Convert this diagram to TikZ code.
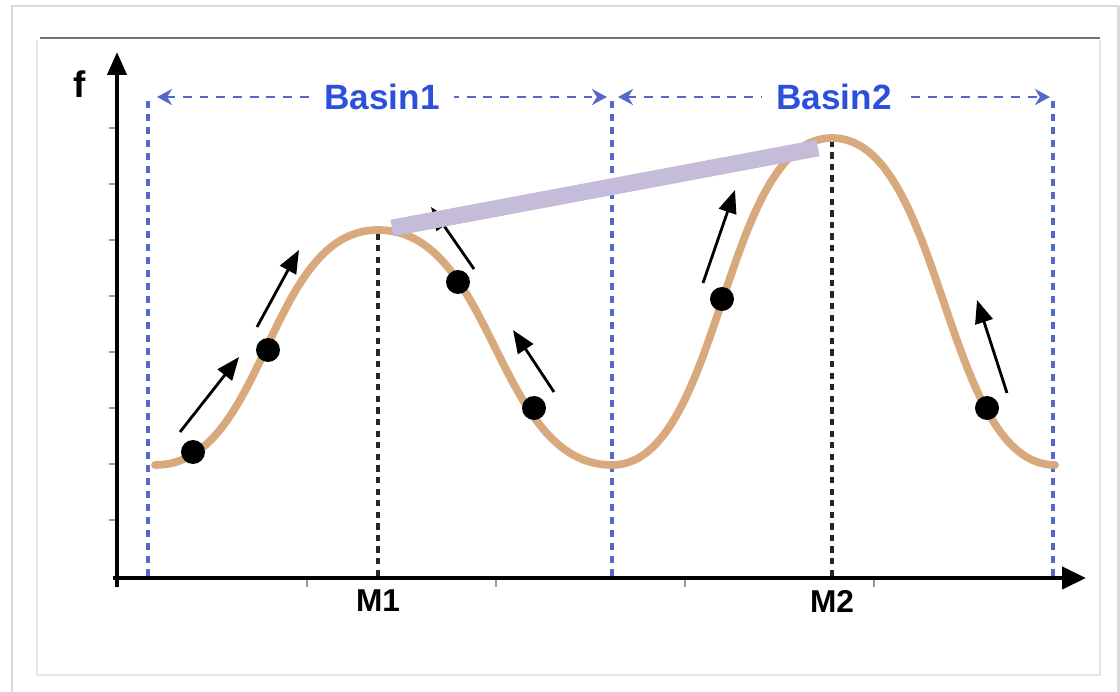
\documentclass[tikz,border=0pt]{standalone}
\usepackage{fontspec}
\setmainfont{Liberation Sans}
\usetikzlibrary{arrows.meta}
\definecolor{curvetan}{HTML}{D8A97C}
\definecolor{barlilac}{HTML}{C4BCD8}
\definecolor{basinblue}{HTML}{2C50DC}
\definecolor{sepblue}{HTML}{5468CC}
\definecolor{framegray}{HTML}{DADADA}

\begin{document}
\begin{tikzpicture}[x=0.02cm, y=-0.02cm, line join=round, >=Stealth,
		sep/.style={sepblue, line width=2pt, dash pattern=on 4pt off 3.4pt},
		peak/.style={black!85, line width=2pt, dash pattern=on 3.6pt off 3pt},
		span/.style={sepblue, line width=1.7pt, dash pattern=on 5pt off 4.5pt,
			{Stealth[length=3mm,width=3.2mm]}-{Stealth[length=3mm,width=3.2mm]}},
		move/.style={black, line width=1.6pt, -{Triangle[length=4.6mm,width=3.6mm]}},
		ball/.style={circle, fill=black, inner sep=0pt, minimum size=0.48cm},
		lbl/.style={font=\bfseries\fontsize{18}{20}\selectfont},
		basin/.style={font=\bfseries\fontsize{20}{22}\selectfont, text=basinblue, fill=white, inner xsep=8pt}]
	
	% Page frame and panel
	\useasboundingbox (0,0) rectangle (1120,692);
	\draw[framegray, line width=1.7pt] (12,700) -- (12,6) -- (1118,6) -- (1118,700);
	\draw[framegray!70, line width=1.2pt] (37,40) -- (37,675) -- (1100,675) -- (1100,40);
	\draw[black!55, line width=1.7pt] (40,38) -- (1100,38);
	
	% Define axis points
	\coordinate (O) at (117,578);
	\coordinate (Xs) at (113,578);
	\coordinate (Xe) at (1086,578);
	\coordinate (Ys) at (117,587);
	\coordinate (Ye) at (117,52);
	
	% Tick marks
	\foreach \ty in {128,184,...,522} {
		\draw[black!40, line width=0.6pt] (109,\ty) -- (117,\ty);
	}
	\foreach \tx in {307,496,685,874} {
		\draw[black!40, line width=0.6pt] (\tx,578) -- (\tx,587);
	}
	
	% Basin borders and minima
	\draw[sep] (148,576) -- (148,97);
	\draw[sep] (612,576) -- (612,97);
	\draw[sep] (1053,576) -- (1053,97);
	\draw[peak] (378,576) -- (378,232);
	\draw[peak] (832,576) -- (832,140);
	
	% Basin spans
	\draw[span] (157,97) -- (607,97) node[midway, basin] (b1) {Basin1};
	\draw[span] (618,97) -- (1050,97) node[midway, basin] (b2) {Basin2};
	
	% Axes
	\draw[line width=2.4pt, -{Triangle[length=4.8mm,width=4.4mm]}] (Xs) -- (Xe);
	\draw[line width=2.4pt, -{Triangle[length=4.6mm,width=3.8mm]}] (Ys) -- (Ye);
	
	% Landscape curve
	\draw[curvetan, line width=4.4pt, line cap=round] (155,465)
		.. controls (266.5,465) and (266.5,230) .. (378,230)
		.. controls (495,230) and (495,465) .. (612,465)
		.. controls (722,465) and (722,138) .. (832,138)
		.. controls (943.5,138) and (943.5,465) .. (1055,465);
	
	% Search moves
	\foreach \n/\sx/\sy/\ex/\ey in {1/180/432/239/357, 2/257/327/299/250, 3/474/269/431/207,
		4/554/392/513/330, 5/703/283/735/190, 6/1007/393/977/300} {
		\coordinate (s\n) at (\sx,\sy);
		\coordinate (e\n) at (\ex,\ey);
		\draw[move] (s\n) -- (e\n);
	}
	
	% Jump between the maxima
	\coordinate (J1) at (392,228);
	\coordinate (J2) at (818,148);
	\draw[barlilac, line width=9.5pt] (J1) -- (J2);
	
	% Sample points
	\foreach \n/\px/\py in {1/193/452, 2/268/350, 3/458/282, 4/534/408, 5/722/299, 6/987/408} {
		\node[ball] (d\n) at (\px,\py) {};
	}
	
	% Labels
	\node[lbl, font=\bfseries\fontsize{21}{22}\selectfont] (f) at (80,84) {f};
	\node[lbl] (m1) at (378,601) {M1};
	\node[lbl] (m2) at (832,601) {M2};
	
\end{tikzpicture}
\end{document}
